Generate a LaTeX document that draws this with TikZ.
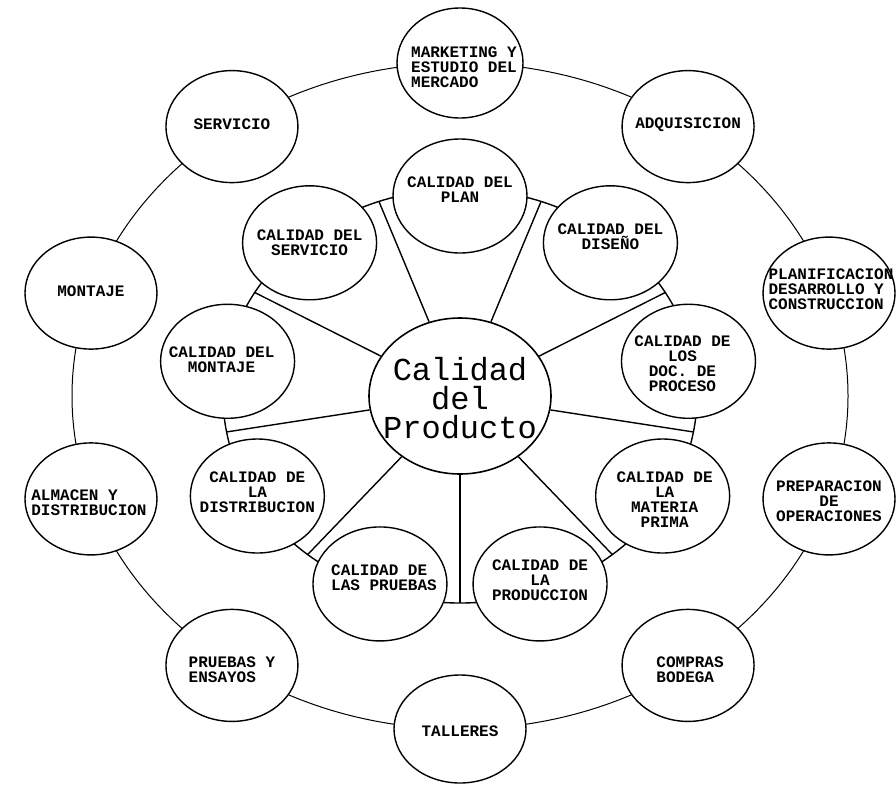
\documentclass[tikz,border=0pt]{standalone}
\usepackage{fontspec}
\setmainfont{Liberation Mono}
\usetikzlibrary{shapes.geometric}
\tikzset{
  ring/.style={line width=1pt},
  spoke/.style={line width=1.4pt},
  bub/.style={ellipse, draw, fill=white, line width=1.4pt, inner sep=0pt,
    minimum width=134pt, minimum height=114pt},
  obub/.style={bub, minimum width=132pt, minimum height=112pt},
  hubst/.style={ellipse, draw, fill=white, line width=1.6pt, inner sep=0pt,
    minimum width=182pt, minimum height=156pt},
  txt/.style={font=\fontsize{16}{15}\selectfont\bfseries, align=center, inner sep=0pt},
  ltxt/.style={txt, align=left},
  htxt/.style={font=\fontsize{32}{29}\selectfont, align=center, inner sep=0pt}
}
\begin{document}
\begin{tikzpicture}[x=1pt,y=-1pt]
\useasboundingbox (0,0) rectangle (896,790);
\coordinate (C) at (460,396);
% outer ring and rim
\draw[ring] (C) ellipse [x radius=388pt, y radius=333pt];
\draw[spoke] (C) ellipse [x radius=237pt, y radius=207pt];
% spoke end points
\foreach \a/\n in {70/1,30/2,-10/3,-50/4,-90/5,-130/6,-170/7,150/8,110/9}
  \path (C) ++(\a:237pt and 207pt) coordinate (s\n);
% hub
\node[hubst] (hub) at (C) {};
\foreach \n in {1,...,9} \draw[spoke] (hub) -- (s\n);
% inner bubbles
\path (C) ++(90:234pt and 200pt) node[bub] (i1) {};
\path (C) ++(50:234pt and 200pt) node[bub] (i2) {};
\path (C) ++(10:232pt and 200pt) node[bub] (i3) {};
\path (C) ++(-30:234pt and 200pt) node[bub] (i4) {};
\path (C) ++(-70:234pt and 200pt) node[bub] (i5) {};
\path (C) ++(-110:234pt and 200pt) node[bub] (i6) {};
\path (C) ++(-150:234pt and 200pt) node[bub] (i7) {};
\path (C) ++(170:236pt and 200pt) node[bub] (i8) {};
\path (C) ++(130:234pt and 200pt) node[bub] (i9) {};
% outer bubbles
\path (C) ++(90:388pt and 333pt) node[obub, minimum width=126pt, minimum height=110pt] (o1) {};
\path (C) ++(54:388pt and 333pt) node[obub] (o2) {};
\path (C) ++(18:388pt and 333pt) node[obub] (o3) {};
\path (C) ++(-18:388pt and 333pt) node[obub] (o4) {};
\path (C) ++(-54:388pt and 333pt) node[obub] (o5) {};
\path (C) ++(-90:388pt and 333pt) node[obub, minimum height=108pt] (o6) {};
\path (C) ++(-126:388pt and 333pt) node[obub] (o7) {};
\path (C) ++(-162:388pt and 333pt) node[obub] (o8) {};
\path (C) ++(162:388pt and 333pt) node[obub] (o9) {};
\path (C) ++(126:388pt and 333pt) node[obub] (o10) {};
% hub text
\node[htxt] (ht) at ([yshift=-2pt]hub.center) {Calidad\\del\\Producto};
% inner texts
\node[txt] (t1) at ([yshift=6pt]i1.center) {CALIDAD DEL\\PLAN};
\node[txt] (t2) at ([yshift=6pt]i2.center) {CALIDAD DEL\\DISEÑO};
\node[txt] (t3) at ([xshift=-6pt,yshift=-2pt]i3.center) {CALIDAD DE\\LOS\\DOC. DE\\PROCESO};
\node[txt] (t4) at ([xshift=2pt,yshift=-4pt]i4.center) {CALIDAD DE\\LA\\MATERIA\\PRIMA};
\node[txt] (t5) at ([yshift=4pt]i5.center) {CALIDAD DE\\LA\\PRODUCCION};
\node[ltxt] (t6) at ([xshift=4pt,yshift=6pt]i6.center) {CALIDAD DE\\LAS PRUEBAS};
\node[txt] (t7) at ([yshift=4pt]i7.center) {CALIDAD DE\\LA\\DISTRIBUCION};
\node[txt] (t8) at ([xshift=-6pt,yshift=2pt]i8.center) {CALIDAD DEL\\MONTAJE};
\node[txt] (t9) at (i9.center) {CALIDAD DEL\\SERVICIO};
% outer texts
\node[ltxt] (u1) at ([xshift=4pt,yshift=-4pt]o1.center) {MARKETING Y\\ESTUDIO DEL\\MERCADO};
\node[txt] (u2) at ([yshift=2pt]o2.center) {ADQUISICION};
\node[ltxt] (u3) at ([xshift=2pt,yshift=4pt]o3.center) {PLANIFICACION\\DESARROLLO Y\\CONSTRUCCION};
\node[txt] (u4) at ([yshift=-2pt]o4.center) {PREPARACION\\DE\\OPERACIONES};
\node[ltxt] (u5) at ([xshift=2pt,yshift=-4pt]o5.center) {COMPRAS\\BODEGA};
\node[txt] (u6) at ([yshift=-2pt]o6.center) {TALLERES};
\node[ltxt] (u7) at ([xshift=0pt,yshift=-4pt]o7.center) {PRUEBAS Y\\ENSAYOS};
\node[ltxt] (u8) at ([xshift=-2pt,yshift=-4pt]o8.center) {ALMACEN Y\\DISTRIBUCION};
\node[txt] (u9) at ([yshift=2pt]o9.center) {MONTAJE};
\node[txt] (u10) at ([yshift=2pt]o10.center) {SERVICIO};
\end{tikzpicture}
\end{document}
